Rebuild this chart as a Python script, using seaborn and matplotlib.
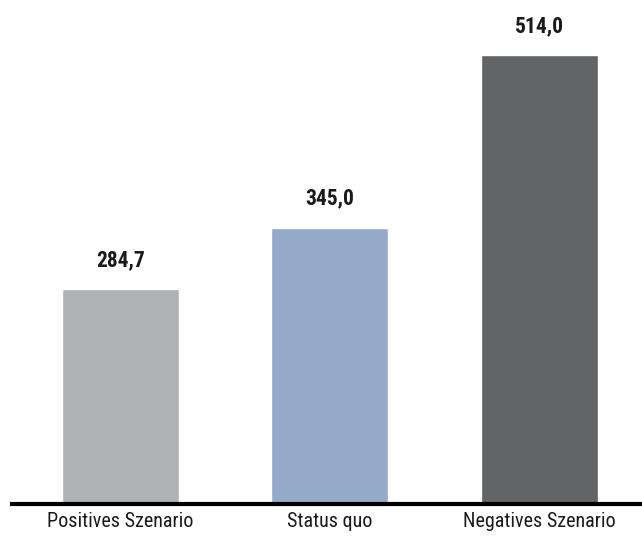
import matplotlib
matplotlib.use("Agg")
import matplotlib.pyplot as plt
import seaborn as sns
import pandas as pd

categories = ["Positives Szenario", "Status quo", "Negatives Szenario"]
values = [284.7, 345.0, 514.0]
colors = ["#b0b3b6", "#95a9c9", "#636466"]
value_labels = ["284,7", "345,0", "514,0"]

sns.set_theme(style="white")
plt.rcParams["font.family"] = ["Roboto Condensed", "DejaVu Sans"]

df = pd.DataFrame({"cat": categories, "val": values})

fig = plt.figure(figsize=(6.42, 5.38), dpi=100)
ax = fig.add_axes([12 / 642, 34 / 538, 1 - 12 / 642, 1 - 34 / 538])

sns.barplot(data=df, x="cat", y="val", hue="cat", palette=colors,
            width=0.56, legend=False, ax=ax, saturation=1)

for container, lab in zip(ax.containers, value_labels):
    ax.bar_label(container, labels=[lab], padding=13, fontsize=15.5,
                 fontweight="bold", color="#1a1a1a")

ax.set_xlim(-0.517, 2.49)
ax.set_ylim(74.4, 568)
ax.set_xlabel("")
ax.set_ylabel("")
ax.set_yticks([])
for s in ["top", "right", "left"]:
    ax.spines[s].set_visible(False)
ax.spines["bottom"].set_color("black")
ax.spines["bottom"].set_linewidth(3)
ax.spines["bottom"].set_zorder(5)
ax.tick_params(axis="x", length=0, pad=6, labelsize=14.5, labelcolor="#1a1a1a")

fig.savefig("out.png", dpi=100)
